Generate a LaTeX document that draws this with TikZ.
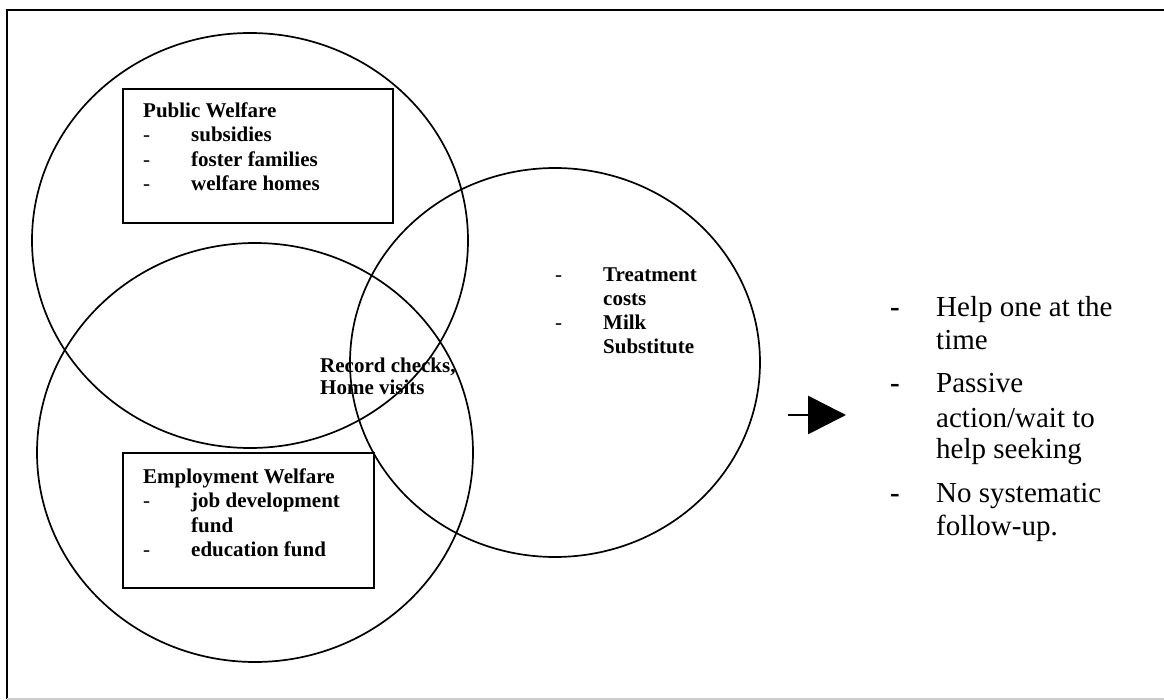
\documentclass[tikz,border=0pt]{standalone}
\usepackage{fontspec}
\setmainfont{Liberation Serif}
\usetikzlibrary{shapes.geometric,arrows.meta}
\begin{document}
\begin{tikzpicture}[x=1pt,y=-1pt,
  bt/.style={font=\fontsize{21}{24.5}\selectfont\bfseries, anchor=base west, inner sep=0pt},
  bd/.style={font=\fontsize{21}{24.5}\selectfont, anchor=base west, inner sep=0pt},
  rt/.style={font=\fontsize{29}{33}\selectfont, anchor=base west, inner sep=0pt},
  rd/.style={font=\fontsize{29}{33}\selectfont\bfseries, anchor=base west, inner sep=0pt},
  circ/.style={ellipse, draw, line width=1.7pt, inner sep=0pt},
  box/.style={rectangle, draw, line width=1.7pt, inner sep=0pt, anchor=north west}]
\useasboundingbox (0,0) rectangle (1164,700);
% frame
\draw[line width=2.2pt] (1164,10) -- (7,10) -- (7,699);
\draw[black!20, line width=1.5pt] (7,699) -- (1164,699);
% circles
\node[circ, minimum width=436pt, minimum height=415pt] (c1) at (250,240.5) {};
\node[circ, minimum width=436pt, minimum height=419pt] (c2) at (255,452.5) {};
\node[circ, minimum width=410pt, minimum height=389pt] (c3) at (555,362.5) {};
% boxes
\node[box, minimum width=270pt, minimum height=134pt] (pw) at (122,88) {};
\node[box, minimum width=251pt, minimum height=135pt] (ew) at (122,452) {};
% public welfare
\node[bt] (pw0) at (143,118) {Public Welfare};
\node[bd] (pwd1) at (143,142) {-};
\node[bt] (pw1) at (191,142) {subsidies};
\node[bd] (pwd2) at (143,167) {-};
\node[bt] (pw2) at (191,167) {foster families};
\node[bd] (pwd3) at (143,191) {-};
\node[bt] (pw3) at (191,191) {welfare homes};
% employment welfare
\node[bt] (ew0) at (143,483) {Employment Welfare};
\node[bd] (ewd1) at (143,507) {-};
\node[bt] (ew1) at (191,507) {job development};
\node[bt] (ew1b) at (191,532) {fund};
\node[bd] (ewd2) at (143,556) {-};
\node[bt] (ew2) at (191,556) {education fund};
% treatment
\node[bd] (td1) at (555,282) {-};
\node[bt] (t1) at (603,282) {Treatment};
\node[bt] (t1b) at (603,306) {costs};
\node[bd] (td2) at (555,330) {-};
\node[bt] (t2) at (603,330) {Milk};
\node[bt] (t2b) at (603,354) {Substitute};
% record checks
\node[bt] (r1) at (320,372) {Record checks,};
\node[bt] (r2) at (320,394) {Home visits};
% arrow
\coordinate (as) at (788,415);
\coordinate (ae) at (846,415);
\draw[line width=2.8pt, -{Triangle[length=38pt,width=38pt]}] (as) -- (ae);
% right list
\node[rd] (hd1) at (890,317) {-};
\node[rt] (h1) at (936,317) {Help one at the};
\node[rt] (h1b) at (936,350) {time};
\node[rd] (hd2) at (890,392) {-};
\node[rt] (h2) at (936,392) {Passive};
\node[rt] (h2b) at (936,427) {action/wait to};
\node[rt] (h2c) at (936,458) {help seeking};
\node[rd] (hd3) at (890,502) {-};
\node[rt] (h3) at (936,502) {No systematic};
\node[rt] (h3b) at (936,535) {follow-up.};
\end{tikzpicture}
\end{document}
